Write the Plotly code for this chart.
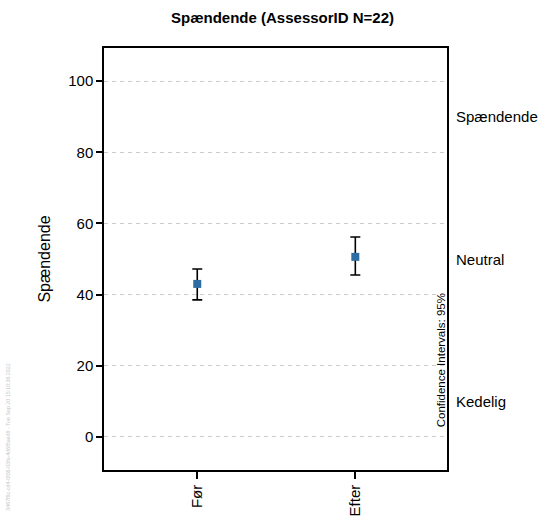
import plotly.graph_objects as go

categories = ["Før", "Efter"]
means = [43.0, 50.6]
ci_upper = [47.2, 56.2]
ci_lower = [38.5, 45.5]
y_ticks = [0, 20, 40, 60, 80, 100]
right_labels = ["Spændende", "Neutral", "Kedelig"]
right_label_pos = [90, 50, 10]

err_plus = [u - m for u, m in zip(ci_upper, means)]
err_minus = [m - l for m, l in zip(means, ci_lower)]

FONT = "Liberation Sans, Arial, sans-serif"

fig = go.Figure()
fig.add_trace(go.Scatter(
    x=[0, 1], y=means, mode="markers",
    marker=dict(symbol="square", size=8, color="#2e6da4"),
    error_y=dict(type="data", symmetric=False, array=err_plus, arrayminus=err_minus,
                 color="black", thickness=1.6, width=5),
    showlegend=False,
))

for lab, pos in zip(right_labels, right_label_pos):
    fig.add_annotation(x=1.02, xref="paper", y=pos, yref="y", text=lab,
                       showarrow=False, xanchor="left", yanchor="middle",
                       font=dict(size=15, color="black", family=FONT))

fig.add_annotation(x=0.985, xref="paper", y=21.5, yref="y",
                   text="Confidence Intervals: 95%", textangle=-90,
                   showarrow=False, xanchor="center", yanchor="middle",
                   font=dict(size=11.5, color="black", family=FONT))

fig.add_annotation(x=-0.28, xref="paper", y=-0.1, yref="paper",
                   text="3467f8c-cd4-0f36-03fa-4d6f5aed8 - Tue Sep 20 15:10:36 2022",
                   textangle=-90, showarrow=False, xanchor="center", yanchor="bottom",
                   font=dict(size=5.3, color="#c8c8c8", family=FONT))

fig.update_layout(
    width=554, height=528,
    margin=dict(l=104, r=107, t=48, b=58),
    paper_bgcolor="white", plot_bgcolor="white",
    title=dict(text="<b>Spændende (AssessorID N=22)</b>", x=0.51, xanchor="center",
               y=0.966, yanchor="middle",
               font=dict(size=15, color="black", family=FONT)),
    font=dict(family=FONT, color="black"),
)
fig.update_xaxes(
    range=[-0.59, 1.58], tickmode="array", tickvals=[0, 1], ticktext=categories,
    tickangle=-90, ticks="outside", ticklen=7, tickwidth=1.5, tickcolor="black",
    showline=True, linecolor="black", linewidth=1.5, mirror=True,
    showgrid=False, zeroline=False, tickfont=dict(size=15, family=FONT),
)
fig.update_yaxes(
    range=[-9.3, 109.3], tickmode="array", tickvals=y_ticks,
    ticks="outside", ticklen=6, tickwidth=1.5, tickcolor="black",
    showline=True, linecolor="black", linewidth=1.5, mirror=True,
    showgrid=True, gridcolor="#cccccc", griddash="4px,4px", gridwidth=1,
    zeroline=False, tickfont=dict(size=15, family=FONT),
    title=dict(text="Spændende", font=dict(size=16, family=FONT), standoff=14),
)

fig.write_html("out.html")
